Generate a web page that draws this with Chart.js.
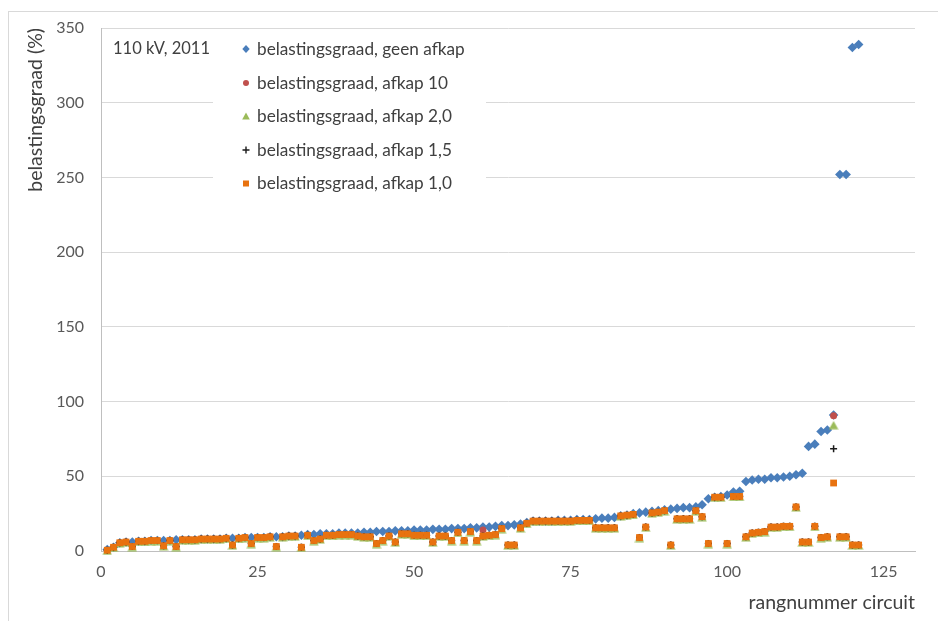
<!DOCTYPE html>
<html>
<head>
<meta charset="utf-8">
<script src="https://cdn.jsdelivr.net/npm/chart.js@4.4.1/dist/chart.umd.min.js"></script>
<style>
  html, body { margin: 0; padding: 0; background: #ffffff; }
  #wrap { width: 938px; height: 621px; position: relative; }
</style>
</head>
<body>
<div id="wrap"><canvas id="c" width="938" height="621"></canvas></div>
<script>
// Rank number of each 110 kV circuit (sorted by load factor without cut-off)
const rangnummer = [
  1, 2, 3, 4, 5, 6, 7, 8, 9, 10, 11, 12, 13, 14, 15, 16, 17, 18, 19, 20,
  21, 22, 23, 24, 25, 26, 27, 28, 29, 30, 31, 32, 33, 34, 35, 36, 37, 38, 39, 40,
  41, 42, 43, 44, 45, 46, 47, 48, 49, 50, 51, 52, 53, 54, 55, 56, 57, 58, 59, 60,
  61, 62, 63, 64, 65, 66, 67, 68, 69, 70, 71, 72, 73, 74, 75, 76, 77, 78, 79, 80,
  81, 82, 83, 84, 85, 86, 87, 88, 89, 90, 91, 92, 93, 94, 95, 96, 97, 98, 99, 100,
  101, 102, 103, 104, 105, 106, 107, 108, 109, 110, 111, 112, 113, 114, 115, 116, 117, 118, 119, 120,
  121
];

// belastingsgraad (%), geen afkap
const geenAfkap = [
  1, 2.5, 5.5, 6, 6, 6.5, 6.5, 7, 7, 7, 7, 7.5, 7.5, 7.5, 7.5, 8, 8, 8, 8, 8.5,
  8.5, 8.5, 9, 9, 9, 9, 9.5, 9.5, 9.5, 10, 10, 10.5, 11, 11, 11.5, 11.5, 11.5, 12, 12, 12,
  12, 12.5, 12.5, 13, 13, 13, 13.5, 13.5, 13.5, 14, 14, 14, 14.5, 14.5, 14.5, 15, 15, 15, 15.5, 15.5,
  16, 16, 16.5, 17, 17, 17.5, 18, 19, 20, 20, 20, 20, 20.5, 20.5, 20.5, 21, 21, 21, 21.5, 22,
  22, 22.5, 23.5, 24, 25, 25.5, 26, 26.5, 27, 27.5, 28, 28.5, 29, 29, 29.5, 31, 35, 36, 36.5, 37.5,
  39.5, 40, 46.5, 47.5, 48, 48, 49, 49, 49.5, 50, 51, 52, 70, 71.5, 80, 81, 91, 252, 252, 337,
  339
];

// belastingsgraad (%), afkap 10
const afkap10 = [
  0.5, 2.5, 5.5, 6, 3, 6.5, 6.5, 7, 7, 3.5, 7, 3, 7.5, 7.5, 7.5, 8, 8, 8, 8, 8.5,
  4, 8.5, 9, 5, 9, 9, 9.5, 3, 9.5, 10, 10, 2.5, 10.5, 7, 8, 10.5, 10.5, 11, 11, 11,
  10, 9.5, 9.5, 5, 7, 10, 6, 11.5, 11.5, 10.5, 10.5, 10.5, 6, 10, 10, 7, 12.5, 7, 13, 7,
  14, 10.5, 11, 15, 4, 4, 15.5, 18.5, 20, 20, 20, 20, 20, 20, 20, 20.5, 20.5, 20.5, 15.5, 15.5,
  15.5, 15.5, 23.5, 24, 24.5, 9, 16, 25.5, 26, 27, 4, 21.5, 21.5, 21.5, 27, 23, 5, 36, 36, 5,
  36.5, 36.5, 9.5, 12, 12.5, 13, 16, 16, 16.5, 16.5, 29.5, 6, 6, 16.5, 9, 9.5, 90.5, 9.5, 9.5, 4,
  4
];

// belastingsgraad (%), afkap 2,0
const afkap2_0 = [
  0.5, 2.5, 5.5, 6, 3, 6.5, 6.5, 7, 7, 3.5, 7, 3, 7.5, 7.5, 7.5, 8, 8, 8, 8, 8.5,
  4, 8.5, 9, 5, 9, 9, 9.5, 3, 9.5, 10, 10, 2.5, 10.5, 7, 8, 10.5, 10.5, 11, 11, 11,
  10, 9.5, 9.5, 5, 7, 10, 6, 11.5, 11.5, 10.5, 10.5, 10.5, 6, 10, 10, 7, 12.5, 7, 13, 7,
  10, 10.5, 11, 15, 4, 4, 15.5, 18.5, 20, 20, 20, 20, 20, 20, 20, 20.5, 20.5, 20.5, 15.5, 15.5,
  15.5, 15.5, 23.5, 24, 24.5, 9, 16, 25.5, 26, 27, 4, 21.5, 21.5, 21.5, 27, 23, 5, 36, 36, 5,
  36.5, 36.5, 9.5, 12, 12.5, 13, 16, 16, 16.5, 16.5, 29.5, 6, 6, 16.5, 9, 9.5, 84.5, 9.5, 9.5, 4,
  4
];

// belastingsgraad (%), afkap 1,5
const afkap1_5 = [
  0.5, 2.5, 5.5, 6, 3, 6.5, 6.5, 7, 7, 3.5, 7, 3, 7.5, 7.5, 7.5, 8, 8, 8, 8, 8.5,
  4, 8.5, 9, 5, 9, 9, 9.5, 3, 9.5, 10, 10, 2.5, 10.5, 7, 8, 10.5, 10.5, 11, 11, 11,
  10, 9.5, 9.5, 5, 7, 10, 6, 11.5, 11.5, 10.5, 10.5, 10.5, 6, 10, 10, 7, 12.5, 7, 13, 7,
  10, 10.5, 11, 15, 4, 4, 15.5, 18.5, 20, 20, 20, 20, 20, 20, 20, 20.5, 20.5, 20.5, 15.5, 15.5,
  15.5, 15.5, 23.5, 24, 24.5, 9, 16, 25.5, 26, 27, 4, 21.5, 21.5, 21.5, 27, 23, 5, 36, 36, 5,
  36.5, 36.5, 9.5, 12, 12.5, 13, 16, 16, 16.5, 16.5, 29.5, 6, 6, 16.5, 9, 9.5, 68.5, 9.5, 9.5, 4,
  4
];

// belastingsgraad (%), afkap 1,0
const afkap1_0 = [
  0.5, 2.5, 5.5, 6, 3, 6.5, 6.5, 7, 7, 3.5, 7, 3, 7.5, 7.5, 7.5, 8, 8, 8, 8, 8.5,
  4, 8.5, 9, 5, 9, 9, 9.5, 3, 9.5, 10, 10, 2.5, 10.5, 7, 8, 10.5, 10.5, 11, 11, 11,
  10, 9.5, 9.5, 5, 7, 10, 6, 11.5, 11.5, 10.5, 10.5, 10.5, 6, 10, 10, 7, 12.5, 7, 13, 7,
  10, 10.5, 11, 15, 4, 4, 15.5, 18.5, 20, 20, 20, 20, 20, 20, 20, 20.5, 20.5, 20.5, 15.5, 15.5,
  15.5, 15.5, 23.5, 24, 24.5, 9, 16, 25.5, 26, 27, 4, 21.5, 21.5, 21.5, 27, 23, 5, 36, 36, 5,
  36.5, 36.5, 9.5, 12, 12.5, 13, 16, 16, 16.5, 16.5, 29.5, 6, 6, 16.5, 9, 9.5, 45.5, 9.5, 9.5, 4,
  4
];

const xTickValues = [0, 25, 50, 75, 100, 125];
const yTickValues = [0, 50, 100, 150, 200, 250, 300, 350];

const seriesLabels = [
  'belastingsgraad, geen afkap',
  'belastingsgraad, afkap 10',
  'belastingsgraad, afkap 2,0',
  'belastingsgraad, afkap 1,5',
  'belastingsgraad, afkap 1,0'
];
const annotationText = '110 kV, 2011';
const xTitle = 'rangnummer circuit';
const yTitle = 'belastingsgraad (%)';

const COLORS = {
  blue: '#4a7ebb',
  red: '#c0504d',
  green: '#9bbb59',
  black: '#1a1a1a',
  orange: '#e8720f'
};
const FONT = 'Lato, "Open Sans", "Noto Sans", sans-serif';

// Triangle marker whose base sits slightly below the square marker drawn on top of it
function makeTriangle(w, h, color) {
  const cv = document.createElement('canvas');
  cv.width = w; cv.height = h;
  const g = cv.getContext('2d');
  g.fillStyle = color;
  g.beginPath();
  g.moveTo(w / 2, 1.2);
  g.lineTo(w - 0.3, h - 0.4);
  g.lineTo(0.3, h - 0.4);
  g.closePath();
  g.fill();
  return cv;
}
const triangleMarker = makeTriangle(10, 10, COLORS.green);

function toPoints(values) {
  return values.map((v, i) => ({ x: rangnummer[i], y: v }));
}

// Legend marker shapes, drawn by hand inside the plot area
function drawMarker(ctx, kind, x, y) {
  ctx.save();
  switch (kind) {
    case 'diamond':
      ctx.fillStyle = COLORS.blue;
      ctx.beginPath();
      ctx.moveTo(x, y - 4); ctx.lineTo(x + 3.7, y); ctx.lineTo(x, y + 4); ctx.lineTo(x - 3.7, y);
      ctx.closePath(); ctx.fill();
      break;
    case 'circle':
      ctx.fillStyle = COLORS.red;
      ctx.beginPath(); ctx.arc(x, y, 3, 0, Math.PI * 2); ctx.fill();
      break;
    case 'triangle':
      ctx.fillStyle = COLORS.green;
      ctx.beginPath();
      ctx.moveTo(x, y - 4); ctx.lineTo(x + 3.8, y + 3); ctx.lineTo(x - 3.8, y + 3);
      ctx.closePath(); ctx.fill();
      break;
    case 'plus':
      ctx.strokeStyle = COLORS.black; ctx.lineWidth = 1.4;
      ctx.beginPath();
      ctx.moveTo(x - 3.5, y); ctx.lineTo(x + 3.5, y);
      ctx.moveTo(x, y - 3.5); ctx.lineTo(x, y + 3.5);
      ctx.stroke();
      break;
    case 'square':
      ctx.fillStyle = COLORS.orange;
      ctx.fillRect(x - 3, y - 3, 6, 6);
      break;
  }
  ctx.restore();
}

const legendKinds = ['diamond', 'circle', 'triangle', 'plus', 'square'];
const legendRowsY = [49, 83, 116.5, 150, 183.5];

const framePlugin = {
  id: 'frame',
  beforeDraw(chart) {
    const ctx = chart.ctx;
    ctx.save();
    ctx.fillStyle = '#ffffff';
    ctx.fillRect(0, 0, chart.width, chart.height);
    ctx.strokeStyle = '#d9d9d9';
    ctx.lineWidth = 1;
    ctx.strokeRect(8.5, 11.5, chart.width + 10, chart.height + 10);
    ctx.restore();
  }
};

const insideLegendPlugin = {
  id: 'insideLegend',
  beforeDatasetsDraw(chart) {
    const ctx = chart.ctx;
    ctx.save();
    ctx.fillStyle = '#ffffff';
    ctx.fillRect(213, 31, 273, 170);
    ctx.fillStyle = '#404040';
    ctx.textBaseline = 'middle';
    ctx.textAlign = 'left';
    ctx.font = '16.5px ' + FONT;
    ctx.fillText(annotationText, 113, 49);
    ctx.font = '17.2px ' + FONT;
    seriesLabels.forEach((label, i) => {
      drawMarker(ctx, legendKinds[i], 246, legendRowsY[i]);
      ctx.fillStyle = '#404040';
      ctx.fillText(label, 257, legendRowsY[i]);
    });
    ctx.restore();
  }
};

new Chart(document.getElementById('c'), {
  type: 'scatter',
  data: {
    datasets: [
      {
        label: seriesLabels[0], data: toPoints(geenAfkap), order: 5,
        pointStyle: 'rectRot', pointRadius: 4.8, pointHoverRadius: 4.8,
        backgroundColor: COLORS.blue, borderColor: COLORS.blue, borderWidth: 0
      },
      {
        label: seriesLabels[1], data: toPoints(afkap10), order: 4,
        pointStyle: 'circle', pointRadius: 3.5, pointHoverRadius: 3.5,
        backgroundColor: COLORS.red, borderColor: COLORS.red, borderWidth: 0
      },
      {
        label: seriesLabels[2], data: toPoints(afkap2_0), order: 3,
        pointStyle: triangleMarker, pointRadius: 5, pointHoverRadius: 5,
        backgroundColor: COLORS.green, borderColor: COLORS.green, borderWidth: 0
      },
      {
        label: seriesLabels[3], data: toPoints(afkap1_5), order: 2,
        pointStyle: 'cross', pointRadius: 3.5, pointHoverRadius: 3.5,
        backgroundColor: COLORS.black, borderColor: COLORS.black, borderWidth: 1.5
      },
      {
        label: seriesLabels[4], data: toPoints(afkap1_0), order: 1,
        pointStyle: 'rect', pointRadius: 4.8, pointHoverRadius: 4.8,
        backgroundColor: COLORS.orange, borderColor: COLORS.orange, borderWidth: 0
      }
    ].map(d => Object.assign(d, { showLine: false, clip: false }))
  },
  options: {
    responsive: false,
    animation: false,
    devicePixelRatio: 1,
    layout: { padding: { left: 8, right: 23, top: 28, bottom: 8.3 } },
    plugins: {
      legend: { display: false },
      tooltip: { enabled: false },
      title: { display: false }
    },
    scales: {
      x: {
        type: 'linear',
        min: 0,
        max: 130,
        afterBuildTicks(scale) { scale.ticks = xTickValues.map(v => ({ value: v })); },
        ticks: {
          font: { family: FONT, size: 16 },
          color: '#595959',
          padding: 11.5,
          maxRotation: 0,
          autoSkip: false
        },
        grid: { display: false, drawTicks: false },
        border: { display: true, color: '#bfbfbf', width: 1 },
        title: {
          display: true,
          text: xTitle,
          align: 'end',
          color: '#404040',
          font: { family: FONT, size: 19.5, lineHeight: 1 },
          padding: { top: 0, bottom: 0 }
        }
      },
      y: {
        type: 'linear',
        min: 0,
        max: 350,
        afterBuildTicks(scale) { scale.ticks = yTickValues.map(v => ({ value: v })); },
        afterFit(scale) { scale.width = 93; },
        ticks: {
          font: { family: FONT, size: 16 },
          color: '#595959',
          padding: 17
        },
        grid: { color: '#d9d9d9', lineWidth: 1, drawTicks: false },
        border: { display: true, color: '#bfbfbf', width: 1 },
        title: {
          display: true,
          text: yTitle,
          align: 'end',
          color: '#404040',
          font: { family: FONT, size: 19.5 },
          padding: { top: 16.3, bottom: 0 }
        }
      }
    }
  },
  plugins: [framePlugin, insideLegendPlugin]
});
</script>
</body>
</html>
